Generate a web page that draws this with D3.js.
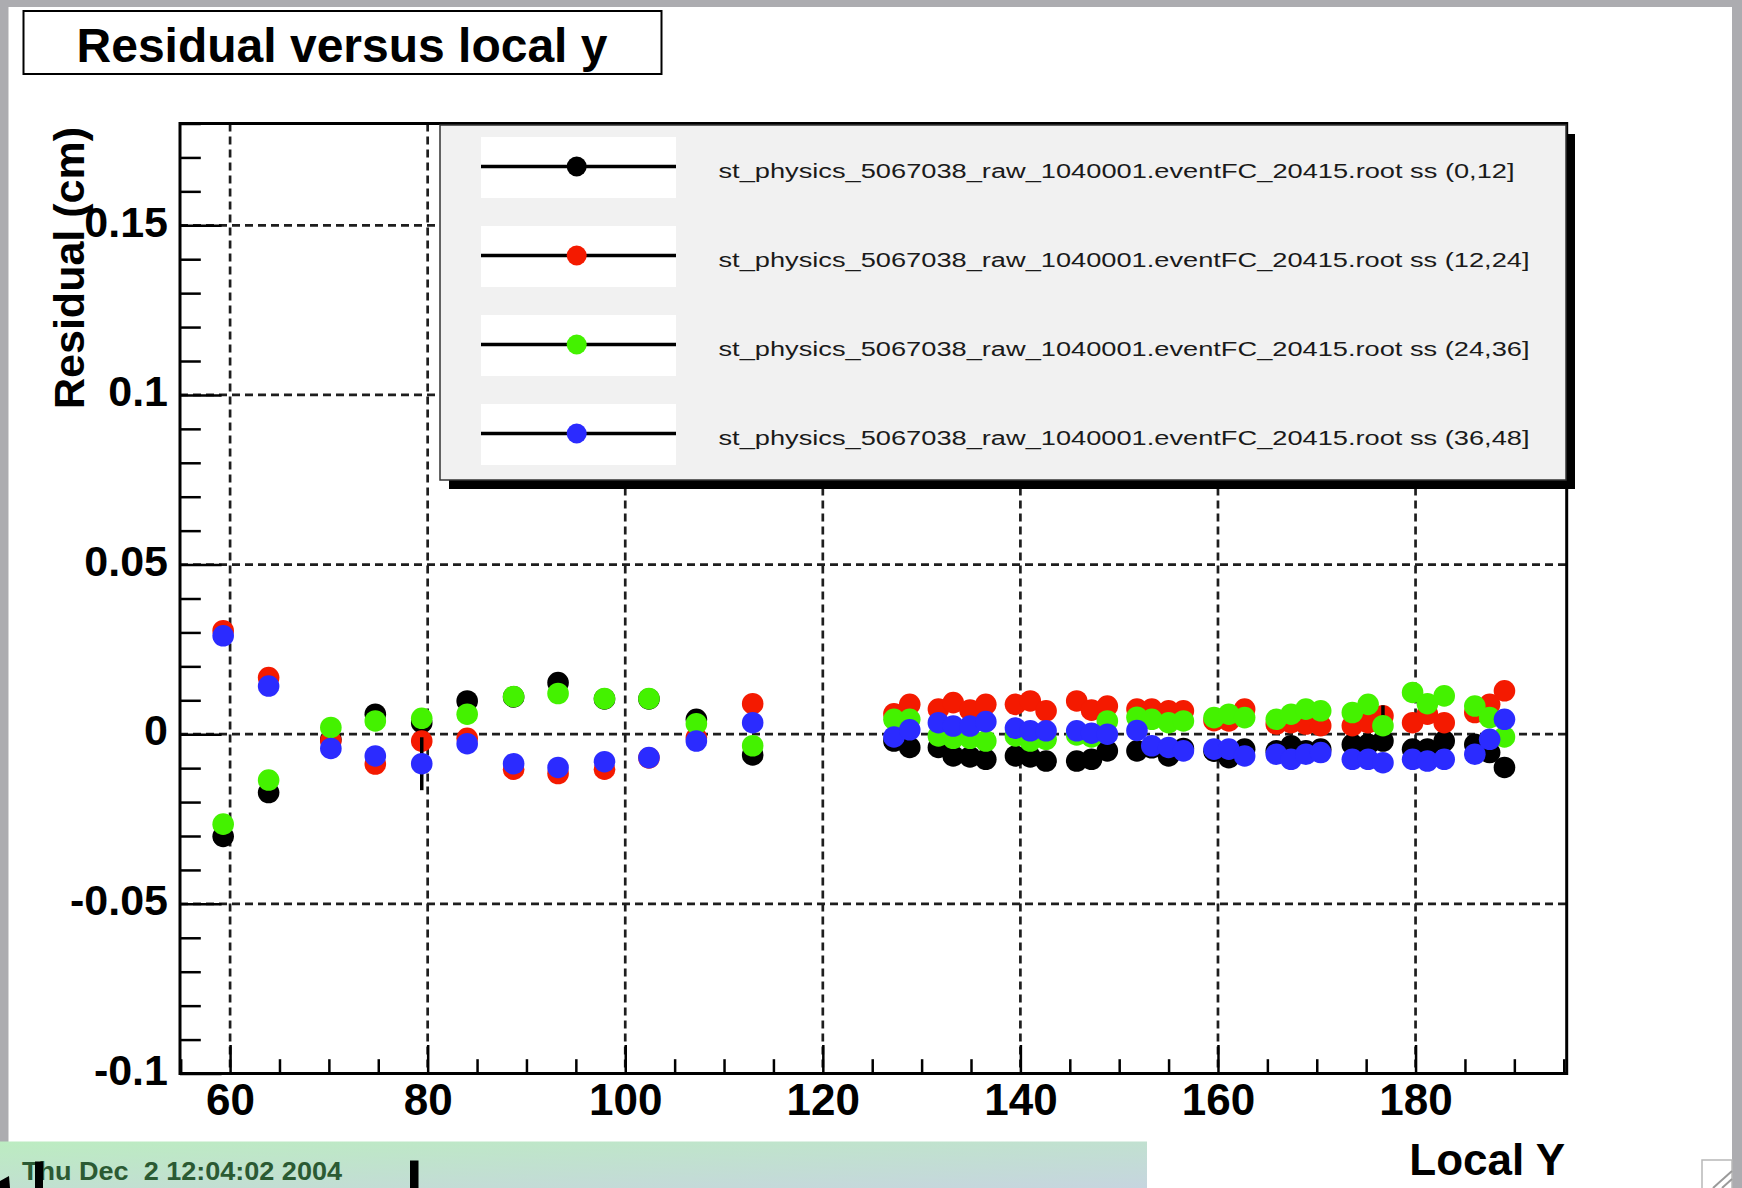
<!DOCTYPE html>
<html>
<head>
<meta charset="utf-8">
<script src="https://cdn.jsdelivr.net/npm/d3@7"></script>
<style>
  body { margin: 0; background: #acacb0; }
  svg { display: block; }
  text { font-family: "Liberation Sans", Arial, Helvetica, sans-serif; }
</style>
</head>
<body>
<script>
// local y positions shared by the four sub-samples
const localY = [
  59.3, 63.9, 70.2, 74.7, 79.4, 84.0, 88.7, 93.2, 97.9, 102.4, 107.2, 112.9,
  127.2, 128.8, 131.7, 133.2, 134.9, 136.5, 139.5, 141.0, 142.6, 145.7, 147.2, 148.8,
  151.8, 153.3, 155.0, 156.5, 159.6, 161.1, 162.7, 165.9, 167.4, 168.9, 170.4,
  173.6, 175.2, 176.7, 179.7, 181.2, 182.9, 186.0, 187.5, 189.0
];

// residuals (cm), one list per ss range
const resBlack = [
  -0.0301, -0.0172, -0.0015, 0.0059, 0.0034, 0.0098, 0.0110, 0.0152, 0.0104, 0.0104, 0.0044, -0.0061,
  -0.0020, -0.0039, -0.0039, -0.0064, -0.0067, -0.0074, -0.0064, -0.0067, -0.0079, -0.0079, -0.0074, -0.0049,
  -0.0049, -0.0040, -0.0064, -0.0042, -0.0050, -0.0069, -0.0044, -0.0049, -0.0034, -0.0049, -0.0044,
  -0.0030, -0.0030, -0.0020, -0.0044, -0.0044, -0.0020, -0.0030, -0.0054, -0.0098
];
const resRed = [
  0.0305, 0.0167, -0.0020, -0.0088, -0.0020, -0.0012, -0.0103, -0.0116, -0.0103, -0.0070, -0.0010, 0.0090,
  0.0060, 0.0088, 0.0074, 0.0093, 0.0071, 0.0088, 0.0088, 0.0098, 0.0069, 0.0098, 0.0071, 0.0083,
  0.0074, 0.0074, 0.0069, 0.0069, 0.0040, 0.0039, 0.0074, 0.0030, 0.0034, 0.0030, 0.0025,
  0.0025, 0.0034, 0.0054, 0.0034, 0.0059, 0.0034, 0.0064, 0.0088, 0.0128
];
const resGreen = [
  -0.0265, -0.0135, 0.0020, 0.0039, 0.0047, 0.0059, 0.0111, 0.0120, 0.0105, 0.0105, 0.0031, -0.0034,
  0.0044, 0.0044, -0.0005, -0.0012, -0.0012, -0.0020, -0.0005, -0.0020, -0.0015, -0.0002, -0.0008, 0.0039,
  0.0050, 0.0044, 0.0034, 0.0039, 0.0049, 0.0059, 0.0049, 0.0044, 0.0059, 0.0074, 0.0069,
  0.0064, 0.0088, 0.0025, 0.0123, 0.0090, 0.0113, 0.0083, 0.0049, -0.0008
];
const resBlue = [
  0.0290, 0.0142, -0.0042, -0.0064, -0.0087, -0.0028, -0.0087, -0.0098, -0.0081, -0.0069, -0.0020, 0.0034,
  -0.0008, 0.0013, 0.0034, 0.0024, 0.0024, 0.0037, 0.0018, 0.0010, 0.0010, 0.0010, 0.0003, 0.0000,
  0.0011, -0.0034, -0.0039, -0.0049, -0.0044, -0.0044, -0.0064, -0.0059, -0.0074, -0.0059, -0.0054,
  -0.0074, -0.0074, -0.0084, -0.0074, -0.0079, -0.0074, -0.0059, -0.0015, 0.0044
];

// the few errors large enough to show (point index -> error)
const errBlack = {};
const errRed = {};
const errGreen = { 37: 0.006 };
const errBlue = { 4: 0.0078 };

const legendLabels = [
  "st_physics_5067038_raw_1040001.eventFC_20415.root ss (0,12]",
  "st_physics_5067038_raw_1040001.eventFC_20415.root ss (12,24]",
  "st_physics_5067038_raw_1040001.eventFC_20415.root ss (24,36]",
  "st_physics_5067038_raw_1040001.eventFC_20415.root ss (36,48]"
];
const seriesColors = ["#000000", "#f41a00", "#44f200", "#2b2bff"];

const xMajor = [60, 80, 100, 120, 140, 160, 180];
const yMajor = [-0.1, -0.05, 0, 0.05, 0.1, 0.15];
const xDomain = [54.93, 195.3];
const yDomain = [-0.1, 0.18];

const W = 1742, H = 1188;
const frame = { left: 180, right: 1566.7, top: 123.5, bottom: 1073.5 };

const svg = d3.select("body").append("svg").attr("width", W).attr("height", H);

const x = d3.scaleLinear().domain(xDomain).range([frame.left, frame.right]);
const y = d3.scaleLinear().domain(yDomain).range([frame.bottom, frame.top]);

// window background and canvas
svg.append("rect").attr("width", W).attr("height", H).attr("fill", "#acacb0");
svg.append("rect")
  .attr("x", 8.5).attr("y", 7)
  .attr("width", 1732 - 8.5).attr("height", H - 7)
  .attr("fill", "#ffffff");

// date bar at bottom left
const defs = svg.append("defs");
const grad = defs.append("linearGradient").attr("id", "dateBar")
  .attr("x1", "0").attr("y1", "0").attr("x2", "1").attr("y2", "1");
grad.append("stop").attr("offset", "0").attr("stop-color", "#bcecc1");
grad.append("stop").attr("offset", "1").attr("stop-color", "#c6d5df");
svg.append("rect")
  .attr("x", 0).attr("y", 1141.5).attr("width", 1147).attr("height", H - 1141.5)
  .attr("fill", "url(#dateBar)");
svg.append("text")
  .attr("x", 22).attr("y", 1179.5)
  .attr("font-size", 25).attr("font-weight", "bold")
  .attr("fill", "#2b5a33")
  .attr("textLength", 320).attr("lengthAdjust", "spacingAndGlyphs")
  .style("white-space", "pre")
  .text("Thu Dec  2 12:04:02 2004");
svg.append("rect").attr("x", 35).attr("y", 1161.5).attr("width", 8).attr("height", 27).attr("fill", "#000");
svg.append("rect").attr("x", 410).attr("y", 1160.5).attr("width", 8.5).attr("height", 28).attr("fill", "#000");
svg.append("path").attr("d", "M0,1181L9,1176L10,1188L0,1188Z").attr("fill", "#000");

// resize grip
svg.append("rect")
  .attr("x", 1702).attr("y", 1160).attr("width", 30).attr("height", 30)
  .attr("fill", "#fff").attr("stroke", "#b8b8b8").attr("stroke-width", 1.5);
[[1713, 1188, 1732, 1171], [1722, 1188, 1732, 1179]].forEach(([a, b, c, d]) =>
  svg.append("line").attr("x1", a).attr("y1", b).attr("x2", c).attr("y2", d)
    .attr("stroke", "#9a9a9a").attr("stroke-width", 2));

// title box
svg.append("rect")
  .attr("x", 23.5).attr("y", 11).attr("width", 638).attr("height", 63)
  .attr("fill", "#fff").attr("stroke", "#000").attr("stroke-width", 2);
svg.append("text")
  .attr("x", 342).attr("y", 61.5)
  .attr("text-anchor", "middle")
  .attr("font-size", 48).attr("font-weight", "bold")
  .text("Residual versus local y");

// plot frame fill
svg.append("rect")
  .attr("x", frame.left).attr("y", frame.top)
  .attr("width", frame.right - frame.left).attr("height", frame.bottom - frame.top)
  .attr("fill", "#fff");

// grid
const grid = svg.append("g")
  .attr("stroke", "#1e1e1e").attr("stroke-width", 2.7).attr("stroke-dasharray", "8,5");
grid.selectAll("line.gx").data(xMajor).join("line")
  .attr("x1", d => x(d)).attr("x2", d => x(d))
  .attr("y1", frame.top).attr("y2", frame.bottom);
grid.selectAll("line.gy").data(yMajor.filter(d => d > yDomain[0])).join("line")
  .attr("x1", frame.left).attr("x2", frame.right)
  .attr("y1", d => y(d)).attr("y2", d => y(d));

// axes (ROOT style: ticks inward)
const xMinor = d3.range(55, 196, 5).filter(d => !xMajor.includes(d) && d <= xDomain[1]);
const yMinor = d3.range(-10, 19).map(d => d / 100).filter(d => !yMajor.some(m => Math.abs(m - d) < 1e-9));
const fmt = d => String(d);

svg.append("g")
  .attr("transform", `translate(0,${frame.bottom})`)
  .call(d3.axisBottom(x).tickValues(xMinor).tickSize(-14.3).tickFormat(""))
  .call(g => g.select(".domain").remove())
  .call(g => g.selectAll("line").attr("stroke", "#000").attr("stroke-width", 2.5));
svg.append("g")
  .attr("transform", `translate(0,${frame.bottom})`)
  .call(d3.axisBottom(x).tickValues(xMajor).tickSize(-28.5).tickPadding(10.5).tickFormat(fmt))
  .call(g => g.select(".domain").remove())
  .call(g => g.selectAll("line").attr("stroke", "#000").attr("stroke-width", 2.5))
  .call(g => g.selectAll("text")
    .attr("font-family", "'Liberation Sans', Arial, sans-serif")
    .attr("font-size", 44).attr("font-weight", "bold").attr("fill", "#000"));

svg.append("g")
  .attr("transform", `translate(${frame.left},0)`)
  .call(d3.axisLeft(y).tickValues(yMinor).tickSize(-20.8).tickFormat(""))
  .call(g => g.select(".domain").remove())
  .call(g => g.selectAll("line").attr("stroke", "#000").attr("stroke-width", 2.5));
svg.append("g")
  .attr("transform", `translate(${frame.left},0)`)
  .call(d3.axisLeft(y).tickValues(yMajor).tickSize(-41.6).tickPadding(12).tickFormat(fmt))
  .call(g => g.select(".domain").remove())
  .call(g => g.selectAll("line").attr("stroke", "#000").attr("stroke-width", 2.5))
  .call(g => g.selectAll("text")
    .attr("dy", "0.25em")
    .attr("font-family", "'Liberation Sans', Arial, sans-serif")
    .attr("font-size", 43).attr("font-weight", "bold").attr("fill", "#000"));

// axis titles
svg.append("text")
  .attr("transform", "translate(84,127) rotate(-90)")
  .attr("text-anchor", "end")
  .attr("font-size", 43).attr("font-weight", "bold")
  .text("Residual (cm)");
svg.append("text")
  .attr("x", 1565).attr("y", 1175)
  .attr("text-anchor", "end")
  .attr("font-size", 44).attr("font-weight", "bold")
  .text("Local Y");

// data: each graph draws its error bars then its markers
const series = [
  { values: resBlack, errs: errBlack },
  { values: resRed, errs: errRed },
  { values: resGreen, errs: errGreen },
  { values: resBlue, errs: errBlue }
];
series.forEach((s, k) => {
  const g = svg.append("g");
  const pts = localY.map((lx, i) => ({ lx, v: s.values[i], e: s.errs[i] || 0 }));
  g.selectAll("line").data(pts.filter(p => p.e > 0)).join("line")
    .attr("x1", p => x(p.lx)).attr("x2", p => x(p.lx))
    .attr("y1", p => y(p.v - p.e)).attr("y2", p => y(p.v + p.e))
    .attr("stroke", "#000").attr("stroke-width", 3.5);
  g.selectAll("circle").data(pts).join("circle")
    .attr("cx", p => x(p.lx)).attr("cy", p => y(p.v))
    .attr("r", 10.8)
    .attr("fill", seriesColors[k]);
});

// frame
svg.append("rect")
  .attr("x", frame.left).attr("y", frame.top)
  .attr("width", frame.right - frame.left).attr("height", frame.bottom - frame.top)
  .attr("fill", "none").attr("stroke", "#000").attr("stroke-width", 3);

// legend
const leg = { x: 440, y: 125, w: 1126, h: 355 };
svg.append("rect")
  .attr("x", leg.x + 9).attr("y", leg.y + 9).attr("width", leg.w).attr("height", leg.h)
  .attr("fill", "#000");
svg.append("rect")
  .attr("x", leg.x).attr("y", leg.y).attr("width", leg.w).attr("height", leg.h)
  .attr("fill", "#f1f1f1").attr("stroke", "#333").attr("stroke-width", 1.5);

const rowY = d3.scalePoint().domain(d3.range(legendLabels.length)).range([167.5, 434.5]);
const entry = svg.append("g").selectAll("g").data(legendLabels).join("g")
  .attr("transform", (d, i) => `translate(0,${rowY(i)})`);
entry.append("rect")
  .attr("x", 481).attr("y", -30.5).attr("width", 195).attr("height", 61)
  .attr("fill", "#fff");
entry.append("line")
  .attr("x1", 481).attr("x2", 676).attr("y1", -1).attr("y2", -1)
  .attr("stroke", "#000").attr("stroke-width", 3.5);
entry.append("circle")
  .attr("cx", 576.7).attr("cy", -1).attr("r", 10)
  .attr("fill", (d, i) => seriesColors[i]);
entry.append("text")
  .attr("x", 718.5).attr("y", 10.5)
  .attr("font-size", 20).attr("fill", "#1a1a1a")
  .attr("textLength", (d, i) => i === 0 ? 796 : 811)
  .attr("lengthAdjust", "spacingAndGlyphs")
  .text(d => d);
</script>
</body>
</html>
